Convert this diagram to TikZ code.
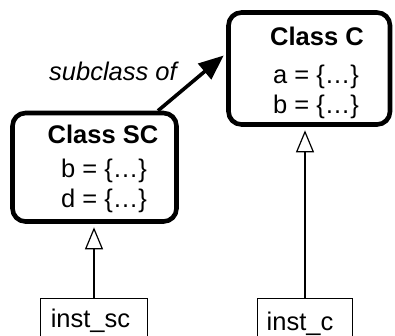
\documentclass[tikz,border=0pt]{standalone}
\usepackage{fontspec}
\setmainfont{Liberation Sans}
\usetikzlibrary{arrows.meta,calc}

\tikzset{
  classbox/.style={draw, line width=4.6pt, rounded corners=13pt, inner sep=0pt},
  instbox/.style={draw, line width=1.2pt, inner sep=0pt, anchor=north},
  lbl/.style={anchor=base, inner sep=0pt, font=\fontsize{25.5}{30}\selectfont},
  title/.style={lbl, font=\fontsize{25.5}{30}\selectfont\bfseries},
  sublink/.style={line width=3.6pt, -{Triangle[length=25pt,width=20pt]}},
  instlink/.style={line width=1.2pt, -{Triangle[open,length=22pt,width=18pt,line width=1.2pt]}}
}

\begin{document}
\begin{tikzpicture}[x=1pt,y=-1pt]
  \useasboundingbox (0,0) rectangle (395,335);
  \clip (0,0) rectangle (395,335);

  % class boxes
  \node[classbox, minimum width=161.5pt, minimum height=112pt] (c) at (309.25,68.5) {};
  \node[classbox, minimum width=164pt, minimum height=108.5pt] (sc) at (94.5,167.25) {};

  % class contents
  \node[title] (ctitle) at (317,45) {Class C};
  \node[lbl] (ca) at (316,83.5) {a = \{…\}};
  \node[lbl] (cb) at (316,113.5) {b = \{…\}};
  \node[title] (sctitle) at (103,143.3) {Class SC};
  \node[lbl] (scb) at (104,177) {b = \{…\}};
  \node[lbl] (scd) at (104,207) {d = \{…\}};

  % instance boxes (run off the lower edge)
  \node[instbox, minimum width=106.6pt, minimum height=60pt] (isc) at (94,297.7) {};
  \node[instbox, minimum width=95.7pt, minimum height=60pt] (ic) at (305,298) {};
  \node[lbl] (isctext) at (90.5,327.5) {inst\_sc};
  \node[lbl] (ictext) at (300,330) {inst\_c};

  % subclass relation
  \draw[sublink] ($(sc.north)+(63.5,0)$) -- ($(c.west)+(-2.5,-13)$);
  \node[lbl, font=\fontsize{25.5}{30}\selectfont\itshape] (subof) at (113,80.5) {subclass of};

  % instance-of relations
  \draw[instlink] (isc.north) -- ($(isc.north |- sc.south)+(0,3.5)$);
  \draw[instlink] (ic.north) -- ($(ic.north |- c.south)+(0,3.5)$);
\end{tikzpicture}
\end{document}
